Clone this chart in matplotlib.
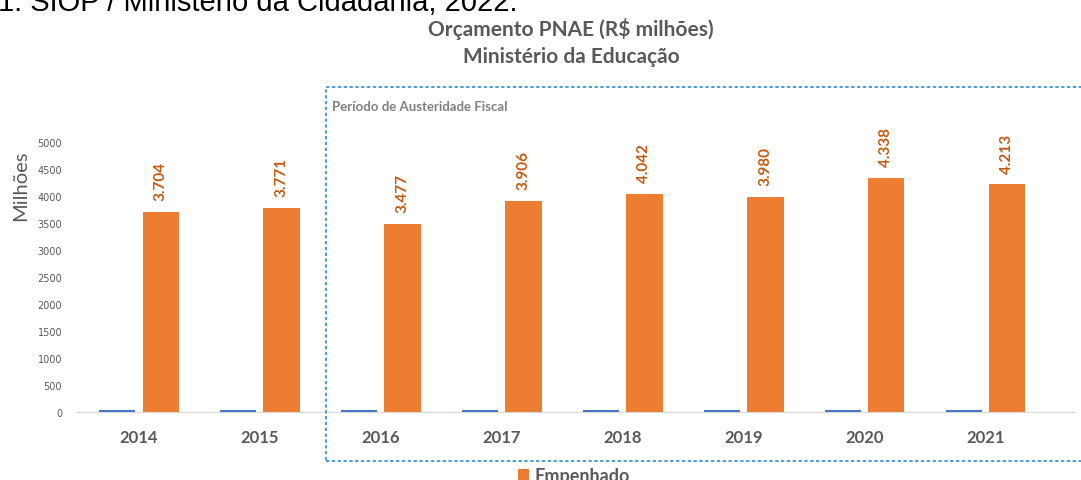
import numpy as np
import matplotlib.pyplot as plt
from matplotlib.patches import Rectangle

anos = ["2014", "2015", "2016", "2017", "2018", "2019", "2020", "2021"]
empenhado = [3704, 3771, 3477, 3906, 4042, 3980, 4338, 4213]
outra_serie = [35, 35, 35, 35, 35, 35, 35, 35]
rotulos = ["3.704", "3.771", "3.477", "3.906", "4.042", "3.980", "4.338", "4.213"]

laranja = "#ED7D31"
laranja_txt = "#C65911"
azul = "#4472C4"
cinza = "#595959"

W, H = 1081, 481
fig = plt.figure(figsize=(W / 100, H / 100), dpi=100)
ax = fig.add_axes([76 / W, 1 - 413 / H, (1075 - 76) / W, (413 - 143) / H])

x = np.arange(len(anos))
larg = 0.30
off = 0.18
ax.bar(x - off, outra_serie, larg, color=azul)
ax.bar(x + off, empenhado, larg, color=laranja, label="Empenhado")

for xi, v, t in zip(x, empenhado, rotulos):
    ax.text(xi + off, v + 220, t, rotation=90, ha="center", va="bottom",
            fontsize=11, fontweight="bold", color=laranja_txt, family="Lato")

ax.set_xlim(-0.52, 7.74)
ax.set_ylim(0, 5000)
ax.set_yticks(np.arange(0, 5001, 500))
ax.set_xticks(x)
ax.set_xticklabels(anos, fontsize=12, fontweight="bold", color=cinza, family="Lato")
for lab in ax.get_yticklabels():
    lab.set_fontsize(7)
    lab.set_color(cinza)
ax.tick_params(length=0)
ax.tick_params(axis="x", pad=12)
ax.tick_params(axis="y", pad=10)
for s in ["top", "right", "left"]:
    ax.spines[s].set_visible(False)
ax.spines["bottom"].set_color("#D9D9D9")
ax.set_ylabel("Milhões", fontsize=14.5, color=cinza, family="Lato")
ax.yaxis.set_label_coords(-0.047, 0.84)

fig.text(571 / W, 1 - 29 / H, "Orçamento PNAE (R$ milhões)", ha="center", va="center",
         fontsize=15, fontweight="bold", color=cinza, family="Lato")
fig.text(571 / W, 1 - 57 / H, "Ministério da Educação", ha="center", va="center",
         fontsize=15, fontweight="bold", color=cinza, family="Lato")

# linha de fonte cortada no topo, como na imagem original
fig.text(-2 / W, 1 - 11 / H, "1: SIOP / Ministério da Cidadania, 2022.", ha="left",
         va="baseline", fontsize=21, color="black", family="Liberation Sans")

fig.patches.append(Rectangle((326 / W, 1 - 462 / H), (1090 - 326) / W, (462 - 88) / H,
                             transform=fig.transFigure, fill=False, edgecolor="#2E8BDB",
                             linewidth=1.2, linestyle=(0, (2, 1.5))))
fig.text(332 / W, 1 - 107 / H, "Período de Austeridade Fiscal", ha="left", va="center",
         fontsize=9.5, fontweight="bold", color="#7F7F7F", family="Lato")

leg = fig.legend(loc="center", bbox_to_anchor=(574 / W, 1 - 477 / H), frameon=False,
                 handlelength=0.6, handleheight=0.6, handletextpad=0.3,
                 prop={"family": "Lato", "size": 13, "weight": "bold"})
for t in leg.get_texts():
    t.set_color(cinza)

fig.savefig("out.png", dpi=100)
